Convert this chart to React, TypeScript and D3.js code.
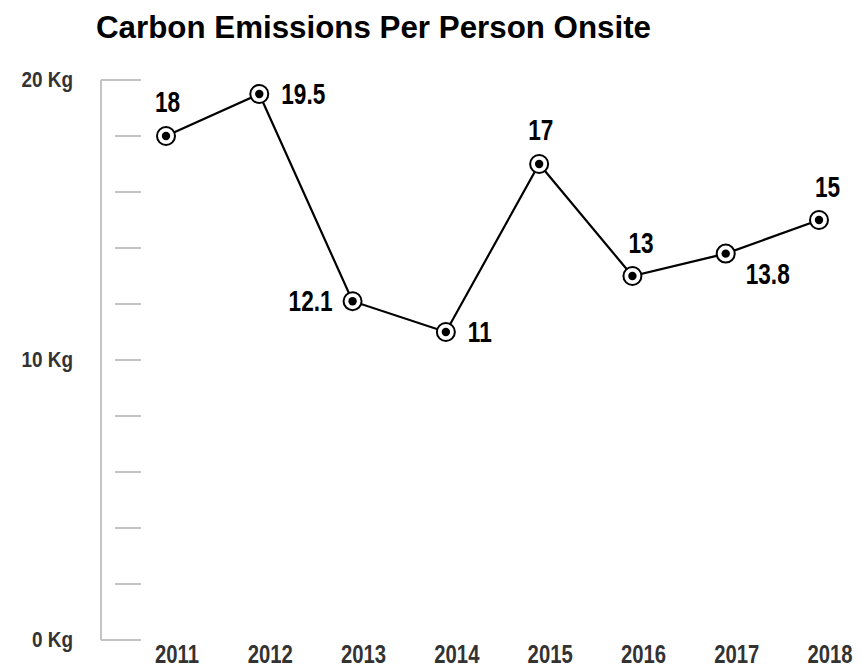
import React, { useEffect } from "react";
import * as d3 from "d3";

const years = ["2011", "2012", "2013", "2014", "2015", "2016", "2017", "2018"];
const values = [18, 19.5, 12.1, 11, 17, 13, 13.8, 15];
const valueLabels = ["18", "19.5", "12.1", "11", "17", "13", "13.8", "15"];
const labelPlacement = ["aboveLeft", "right", "left", "right", "aboveLeft", "above", "belowRight", "above"];
const yTicks = [0, 2, 4, 6, 8, 10, 12, 14, 16, 18, 20];
const yTickLabels = [
  { v: 20, t: "20 Kg" },
  { v: 10, t: "10 Kg" },
  { v: 0, t: "0 Kg" },
];
const title = "Carbon Emissions Per Person Onsite";

const W = 863;
const H = 669;
const SANS = "'Liberation Sans', Arial, sans-serif";

const placementOffsets: Record<string, { dx: number; dy: number; anchor: string }> = {
  aboveLeft: { dx: -11, dy: -24, anchor: "start" },
  right: { dx: 22, dy: 10, anchor: "start" },
  left: { dx: -20, dy: 10, anchor: "end" },
  above: { dx: -4, dy: -23, anchor: "start" },
  belowRight: { dx: 20, dy: 30, anchor: "start" },
};

function NarrowText(props: {
  x: number;
  y: number;
  size: number;
  sx: number;
  anchor?: string;
  fill: string;
  children: React.ReactNode;
}) {
  return (
    <text
      transform={`translate(${props.x},${props.y}) scale(${props.sx},1)`}
      textAnchor={props.anchor || "start"}
      fontFamily={SANS}
      fontWeight="bold"
      fontSize={props.size}
      fill={props.fill}
    >
      {props.children}
    </text>
  );
}

export default function App() {
  useEffect(() => {
    document.body.style.margin = "0";
  }, []);

  const x = d3.scalePoint<string>().domain(years).range([166, 819]);
  const y = d3.scaleLinear().domain([0, 20]).range([640, 80]);
  const axisX = 101;

  const line = d3
    .line<number>()
    .x((_, i) => x(years[i]) as number)
    .y((d) => y(d));

  return (
    <svg width={W} height={H} style={{ display: "block", background: "#fff" }}>
      <text
        x={96}
        y={38}
        fontFamily={SANS}
        fontWeight="bold"
        fontSize={32}
        fill="#000"
        textLength={555}
        lengthAdjust="spacingAndGlyphs"
      >
        {title}
      </text>

      {/* y axis */}
      <line x1={axisX} x2={axisX} y1={y(20)} y2={y(0)} stroke="#c4c4c4" strokeWidth={2} />
      {yTicks.map((t) => {
        const full = t === 0 || t === 20;
        return (
          <line
            key={t}
            x1={full ? axisX : 115}
            x2={141}
            y1={y(t)}
            y2={y(t)}
            stroke="#c4c4c4"
            strokeWidth={2}
          />
        );
      })}
      {yTickLabels.map((d) => (
        <NarrowText key={d.t} x={73} y={y(d.v) + 7} size={22} sx={0.86} anchor="end" fill="#333">
          {d.t}
        </NarrowText>
      ))}

      {/* x labels */}
      {years.map((yr) => (
        <NarrowText key={yr} x={(x(yr) as number) + 11} y={663} size={26} sx={0.78} anchor="middle" fill="#333">
          {yr}
        </NarrowText>
      ))}

      <path d={line(values) || ""} fill="none" stroke="#000" strokeWidth={2.2} />

      {values.map((v, i) => {
        const cx = x(years[i]) as number;
        const cy = y(v);
        const p = placementOffsets[labelPlacement[i]];
        return (
          <g key={years[i]}>
            <circle cx={cx} cy={cy} r={9} fill="#fff" stroke="#000" strokeWidth={2} />
            <circle cx={cx} cy={cy} r={4.2} fill="#000" />
            <NarrowText x={cx + p.dx} y={cy + p.dy} size={29} sx={0.78} anchor={p.anchor} fill="#000">
              {valueLabels[i]}
            </NarrowText>
          </g>
        );
      })}
    </svg>
  );
}
